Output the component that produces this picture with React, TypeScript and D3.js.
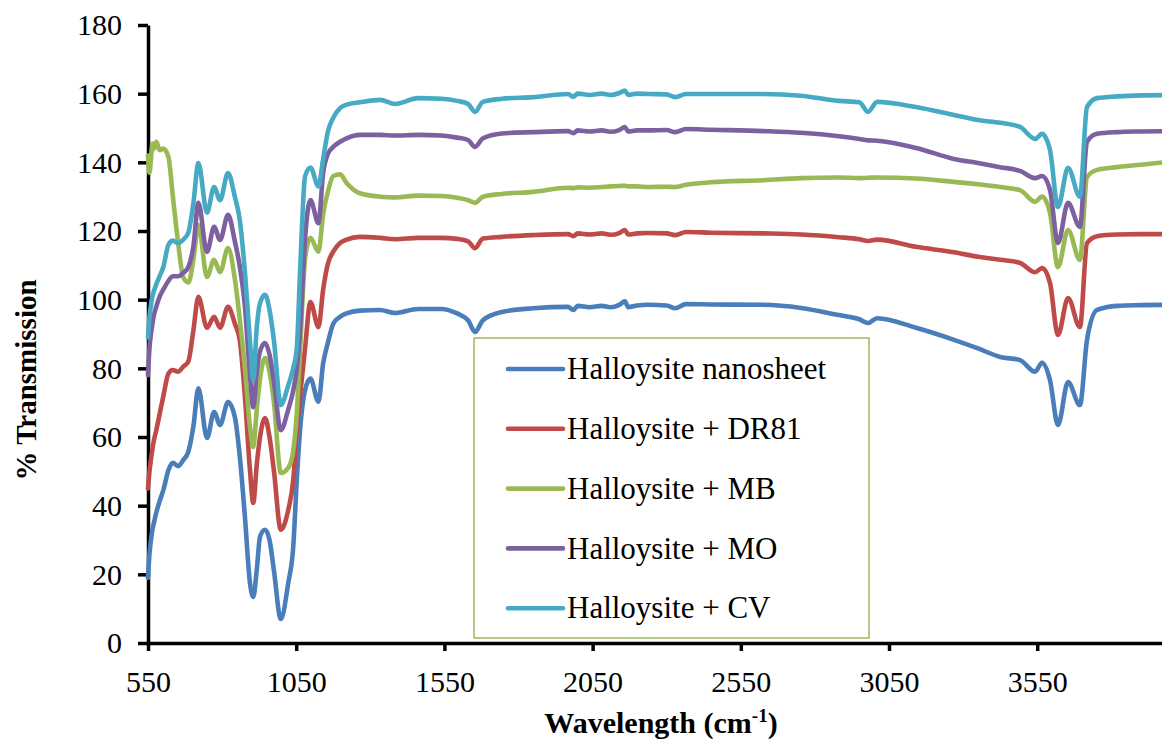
import React, { useRef, useEffect } from 'react';
import * as d3 from 'd3';

// shared wavenumber grid (cm-1)
const wavenumbers = [
  550, 555, 560, 565, 570, 578, 590, 602, 619, 634, 651, 669, 686, 703, 720,
  749, 773, 793, 820, 843, 860, 877, 894, 905, 917, 928, 945, 960, 975, 998, 1023, 1040, 1052, 1063, 1080, 1098, 1125, 1141, 1157, 1175, 1198, 1220, 1265,
  1333, 1383, 1461, 1539, 1593, 1630, 1653, 1680, 1744, 1849, 1967, 1985, 2000, 2040, 2080, 2110, 2140, 2159, 2170, 2200, 2237, 2300, 2328, 2365, 2450, 2625, 2753, 2881, 2950, 2979, 3010, 3141, 3269, 3350, 3425, 3492, 3543, 3566, 3593, 3620, 3654, 3694, 3718, 3752, 3819, 3900, 4000,
];

const nanosheet = [
  19, 26, 30, 33, 35, 38, 41.5, 44.6, 50.4, 52.5, 51.5, 53.3, 55.7, 63, 74.2,
  59.7, 67.3, 63.5, 70.2, 65.8, 54, 36.7, 17.5, 13.4, 21.3, 31, 33, 30, 21, 7, 17.4, 28, 47.5, 62, 73.7, 77, 70.3, 81.5, 87.5, 93, 95, 96, 96.8,
  97, 96.1, 97.3, 97.3, 96, 94, 90.6, 94, 96.4, 97.5, 97.9, 97, 98.2, 97.8, 98.2, 97.8, 98.5, 99.5, 97.8, 98.3, 98.5, 98.3, 97.5, 98.7, 98.6, 98.5, 97.6, 95.5, 94.3, 93.2, 94.6, 91.8, 88.3, 85.8, 83.3, 82.4, 79, 81.6, 76.6, 63.5, 76, 69.3, 88.3, 97, 98.2, 98.4, 98.5,
];

const dr81 = [
  45, 50, 53.5, 56.5, 59, 62, 67, 72, 78.5, 79.5, 79, 80.5, 82, 91, 100.8,
  91.8, 95, 91.8, 97.9, 93, 88, 71.7, 50.4, 40.8, 52, 60, 65.5, 60, 50, 33, 38.7, 47.5, 62, 72, 86, 99.3, 92, 103, 110.5, 114, 116.5, 117.5, 118.3,
  118, 117.6, 118, 118, 117.7, 117, 115, 117.8, 118.3, 118.8, 119.1, 118.5, 119.3, 119, 119.3, 118.9, 119.4, 120.3, 119, 119.3, 119.4, 119.3, 118.8, 119.7, 119.5, 119.3, 119, 118.2, 117.6, 117.1, 117.5, 115.4, 113.8, 112.5, 111.6, 110.7, 108, 109.2, 104.9, 89.7, 100.5, 92, 116.5, 118.5, 119, 119.1, 119.1,
];

const mb = [
  142, 137, 141, 145.5, 144, 146, 143.5, 144, 141.5, 130, 117, 106.5, 105, 111.6, 121.8,
  106.6, 111.6, 108, 115, 106, 94, 80, 63, 57.1, 68, 77, 83, 79, 70, 49.5, 51, 56, 67, 85, 112, 118, 114, 125, 131.5, 136, 136.5, 134, 131,
  130, 129.8, 130.3, 130.2, 129.7, 129, 128.2, 130, 130.8, 131.4, 132.6, 132.5, 132.7, 132.6, 132.8, 133, 133.1, 133.2, 133, 133, 132.8, 132.9, 132.8, 133.5, 134.2, 134.8, 135.4, 135.6, 135.4, 135.5, 135.6, 135.3, 134.3, 133.6, 132.8, 131.9, 128.5, 130, 125.3, 109.5, 120.3, 111.6, 135.7, 137.8, 138.6, 139.3, 140.2,
];

const mo = [
  78, 86, 90, 93, 95.5, 98, 101, 103, 105.5, 106.8, 106.8, 107.8, 109.5, 115.4, 128.2,
  113.9, 121.2, 117.4, 124.7, 117, 109.5, 98, 78, 68.7, 79, 85, 87.4, 84, 76, 62, 68, 73.5, 80, 91, 118, 129, 122.3, 137, 142.5, 144.5, 146, 147, 148,
  148, 147.8, 148, 147.8, 147.2, 146.5, 144.5, 147, 148.4, 148.8, 149.1, 148.5, 149.3, 149, 149.3, 148.9, 149.4, 150.3, 149, 149.3, 149.3, 149.4, 148.8, 149.7, 149.5, 149.1, 148.6, 147.6, 146.8, 146.4, 146.3, 144.2, 141, 139.8, 138.6, 137.5, 135.4, 136, 132, 116.5, 128.2, 121.2, 146, 148.3, 148.8, 149, 149.1,
];

const cv = [
  89, 95, 98.5, 101, 102.5, 104.5, 107, 109.6, 116, 117.2, 116.5, 117.5, 119.5, 128, 139.8,
  125.3, 132.8, 129, 136.9, 130, 123, 108, 88, 76.6, 92, 99, 101.4, 97, 88, 69.3, 75, 80, 86, 108, 136, 138.5, 133, 141, 149, 153, 155.8, 156.8, 157.5,
  158.2, 157, 158.7, 158.5, 157.9, 157, 154.7, 157.6, 158.5, 159, 159.9, 159.1, 160, 159.6, 160, 159.6, 160.2, 160.9, 159.6, 160, 159.9, 159.8, 159, 159.9, 159.9, 159.9, 159.4, 157.9, 157.5, 154.7, 157.6, 156.1, 153.8, 152.3, 151.5, 150.3, 146.8, 148.3, 143.6, 127, 138.4, 130, 156.1, 158.7, 159.2, 159.5, 159.6,
];

const seriesNames = [
  'Halloysite nanosheet',
  'Halloysite + DR81',
  'Halloysite + MB',
  'Halloysite + MO',
  'Halloysite + CV',
];
const seriesValues = [nanosheet, dr81, mb, mo, cv];
const colors = ['#4a7ebb', '#be4b48', '#98b954', '#7d60a0', '#46aac5'];

const xTicks = [550, 1050, 1550, 2050, 2550, 3050, 3550];
const yTicks = [0, 20, 40, 60, 80, 100, 120, 140, 160, 180];

const FONT = '"Liberation Serif", "Times New Roman", serif';

const App = () => {
  const svgRef = useRef(null);

  useEffect(() => {
    const svg = d3.select(svgRef.current);
    svg.selectAll('*').remove();

    // 550 -> 148px, 500 units ~ 148px; right end (4000) falls just past the frame
    const x = d3.scaleLinear().domain([550, 4000]).range([148, 1170.6]);
    const y = d3.scaleLinear().domain([0, 180]).range([643, 25]);

    // Y axis
    const yAxis = svg.append('g')
      .attr('transform', 'translate(148,0)')
      .call(d3.axisLeft(y).tickValues(yTicks).tickSize(10).tickSizeOuter(0).tickPadding(16));
    yAxis.select('.domain').attr('stroke', '#000').attr('stroke-width', 3.5);
    yAxis.selectAll('.tick line').attr('stroke', '#000').attr('stroke-width', 3.5);
    yAxis.selectAll('.tick text')
      .attr('font-family', FONT).attr('font-size', 30).attr('fill', '#000').attr('dy', '0.33em');

    // X axis
    const xAxis = svg.append('g')
      .attr('transform', 'translate(0,643)')
      .call(d3.axisBottom(x).tickValues(xTicks).tickSize(8).tickSizeOuter(0).tickFormat(d3.format('d')));
    xAxis.select('.domain').attr('stroke', '#000').attr('stroke-width', 3.5);
    xAxis.selectAll('.tick line').attr('stroke', '#000').attr('stroke-width', 3.5);
    xAxis.selectAll('.tick text')
      .attr('font-family', FONT).attr('font-size', 30).attr('fill', '#000')
      .attr('y', 49).attr('dy', 0);

    // Spectra
    const line = d3.line()
      .x((d, i) => x(wavenumbers[i]))
      .y(d => y(d))
      .curve(d3.curveMonotoneX);

    seriesValues.forEach((vals, k) => {
      svg.append('path')
        .datum(vals)
        .attr('d', line)
        .attr('fill', 'none')
        .attr('stroke', colors[k])
        .attr('stroke-width', 4.6)
        .attr('stroke-linejoin', 'round')
        .attr('stroke-linecap', 'round');
    });

    // Legend
    const legend = svg.append('g');
    legend.append('rect')
      .attr('x', 474).attr('y', 338).attr('width', 395).attr('height', 300)
      .attr('fill', '#fff').attr('stroke', '#9bbb59').attr('stroke-width', 1.5);
    seriesNames.forEach((name, k) => {
      const ly = 369 + k * 59.8;
      legend.append('line')
        .attr('x1', 508).attr('x2', 563).attr('y1', ly).attr('y2', ly)
        .attr('stroke', colors[k]).attr('stroke-width', 4.6).attr('stroke-linecap', 'round');
      legend.append('text')
        .attr('x', 567).attr('y', ly).attr('dy', '0.33em')
        .attr('font-family', FONT).attr('font-size', 31)
        .text(name);
    });

    // Axis titles
    const xt = svg.append('text')
      .attr('x', 661).attr('y', 733)
      .attr('text-anchor', 'middle')
      .attr('font-family', FONT).attr('font-size', 30).attr('font-weight', 'bold');
    xt.append('tspan').text('Wavelength (cm');
    xt.append('tspan').attr('font-size', 19).attr('dy', -11).text('-1');
    xt.append('tspan').attr('dy', 11).text(')');

    svg.append('text')
      .attr('transform', 'translate(36,380) rotate(-90)')
      .attr('text-anchor', 'middle')
      .attr('font-family', FONT).attr('font-size', 29).attr('font-weight', 'bold')
      .text('% Transmission');
  }, []);

  return (
    <svg
      ref={svgRef}
      width={1162}
      height={742}
      style={{ position: 'absolute', left: 0, top: 0, background: '#fff' }}
    ></svg>
  );
};

export default App;
